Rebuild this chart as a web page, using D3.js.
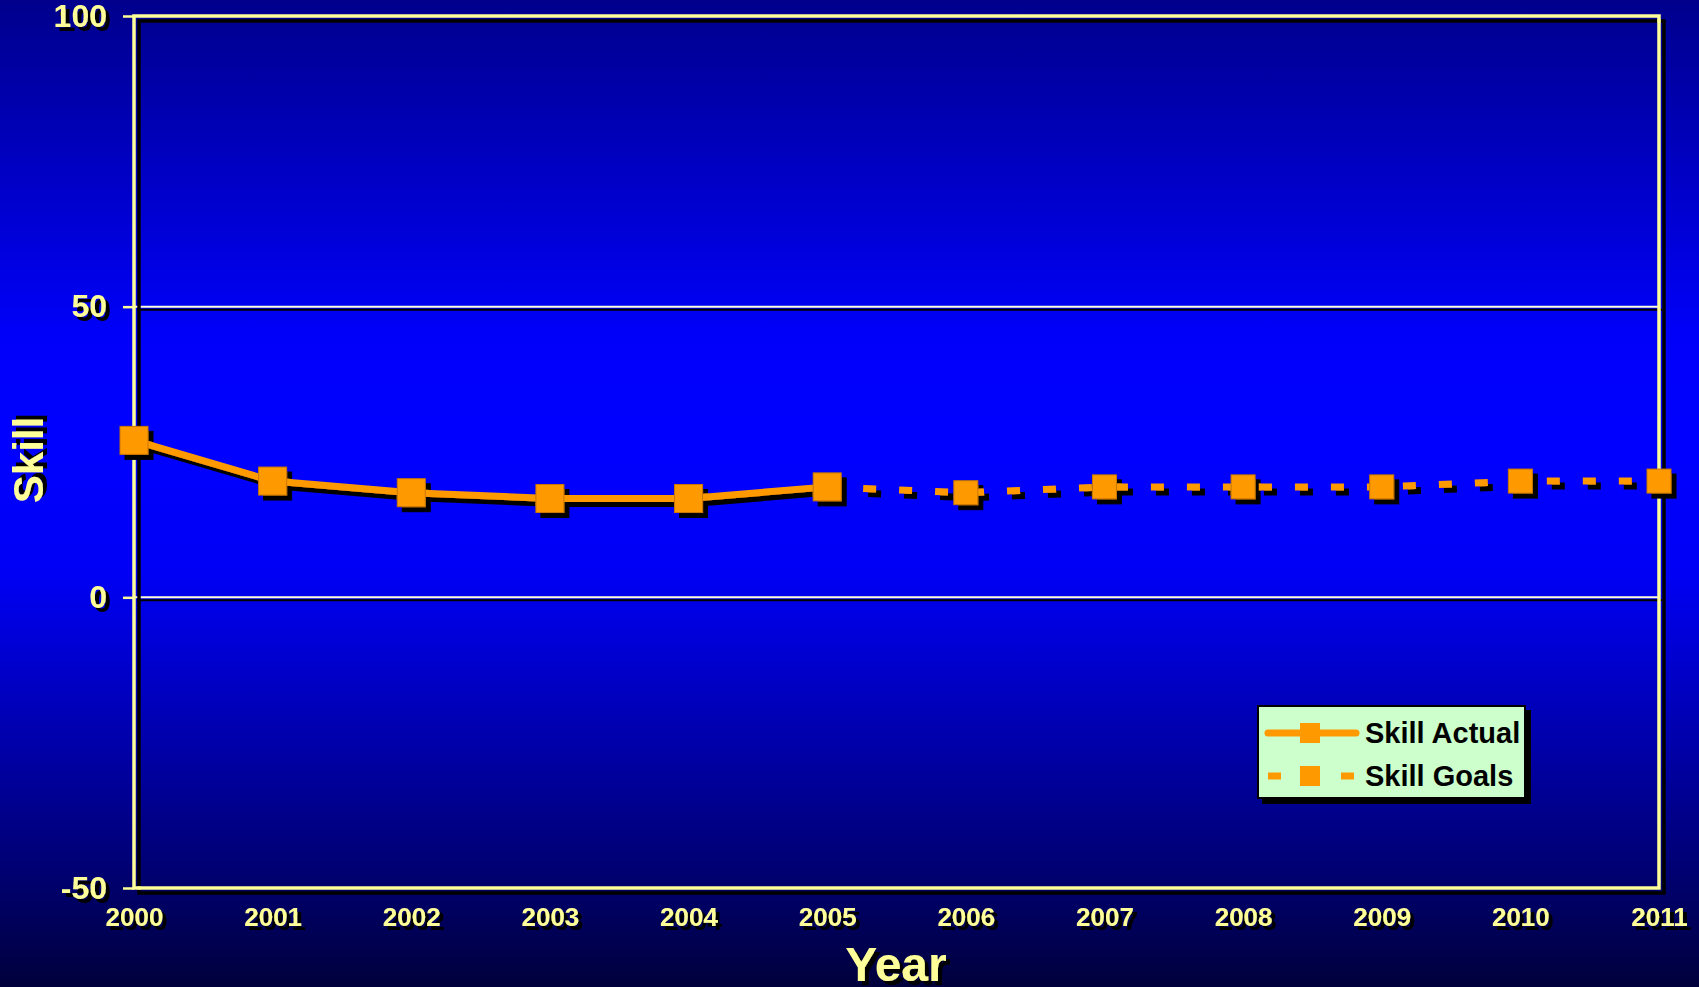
<!DOCTYPE html>
<html>
<head>
<meta charset="utf-8">
<script src="https://cdn.jsdelivr.net/npm/d3@7"></script>
<style>
  html, body { margin: 0; padding: 0; background: #000080; }
  svg { display: block; }
</style>
</head>
<body>
<svg id="chart" width="1699" height="987"></svg>
<script>
// ---- Data ----
const years = [2000, 2001, 2002, 2003, 2004, 2005, 2006, 2007, 2008, 2009, 2010, 2011];
const actualYears = [2000, 2001, 2002, 2003, 2004, 2005];
const actualValues = [27, 20, 18, 17, 17, 19];
const goalYears = [2005, 2006, 2007, 2008, 2009, 2010, 2011];
const goalValues = [19, 18, 19, 19, 19, 20, 20];
const yTicks = [-50, 0, 50, 100];
const gridValues = [0, 50];
const seriesNames = ["Skill Actual", "Skill Goals"];

// ---- Layout ----
const W = 1699, H = 987;
const margin = { left: 134, right: 40, top: 16, bottom: 99 };
const innerW = W - margin.left - margin.right;
const innerH = H - margin.top - margin.bottom;
const textColor = "#FFFF99";
const orange = "#FF9900";
const font = "'Liberation Sans', Arial, sans-serif";

const svg = d3.select("#chart");
const defs = svg.append("defs");

const grad = defs.append("linearGradient").attr("id", "bg")
  .attr("x1", 0).attr("y1", 0).attr("x2", 0).attr("y2", 1);
[[0, "#00008C"], [0.34, "#0000FA"], [0.45, "#0000FF"], [0.58, "#0000F5"], [0.9, "#00006A"], [1, "#00003C"]]
  .forEach(([o, c]) => grad.append("stop").attr("offset", o).attr("stop-color", c));

function shadowFilter(id, d) {
  const f = defs.append("filter").attr("id", id)
    .attr("x", "-20%").attr("y", "-20%").attr("width", "140%").attr("height", "140%")
    .attr("filterUnits", "objectBoundingBox");
  f.append("feDropShadow").attr("dx", d).attr("dy", d).attr("stdDeviation", 0)
    .attr("flood-color", "#000").attr("flood-opacity", 1);
}
shadowFilter("sh5", 5);
shadowFilter("sh4", 4);
shadowFilter("sh3", 3);

svg.append("rect").attr("width", W).attr("height", H).attr("fill", "url(#bg)");

const x = d3.scaleLinear().domain([years[0], years[years.length - 1]]).range([0, innerW]);
const y = d3.scaleLinear().domain([-50, 100]).range([innerH, 0]);

const g = svg.append("g").attr("transform", `translate(${margin.left},${margin.top})`);

// gridlines
g.append("g").attr("filter", "url(#sh3)")
  .selectAll("line").data(gridValues).join("line")
  .attr("x1", 0).attr("x2", innerW)
  .attr("y1", d => y(d)).attr("y2", d => y(d))
  .attr("stroke", "#FFFFDD").attr("stroke-width", 2);

// frame
g.append("rect").attr("x", 0).attr("y", 0).attr("width", innerW).attr("height", innerH)
  .attr("fill", "none").attr("stroke", textColor).attr("stroke-width", 3.5)
  .attr("filter", "url(#sh5)");

// y axis
const yAxis = d3.axisLeft(y).tickValues(yTicks).tickSize(11).tickPadding(16).tickFormat(d => String(d));
const yg = g.append("g").call(yAxis);
yg.select(".domain").remove();
yg.selectAll(".tick line").attr("stroke", textColor).attr("stroke-width", 2.5);
yg.selectAll(".tick text").attr("fill", textColor).attr("font-family", font)
  .attr("font-weight", "bold").attr("font-size", 32).attr("filter", "url(#sh4)");

// x axis
const xAxis = d3.axisBottom(x).tickValues(years).tickSize(0).tickPadding(20).tickFormat(d => String(d));
const xg = g.append("g").attr("transform", `translate(0,${innerH})`).call(xAxis);
xg.select(".domain").remove();
xg.selectAll(".tick text").attr("fill", textColor).attr("font-family", font)
  .attr("font-weight", "bold").attr("font-size", 26).attr("filter", "url(#sh4)");

// axis titles
svg.append("text").attr("transform", "translate(43,460) rotate(-90)")
  .attr("text-anchor", "middle").attr("fill", textColor).attr("font-family", font)
  .attr("font-weight", "bold").attr("font-size", 42).attr("filter", "url(#sh4)").text("Skill");
svg.append("text").attr("x", 896).attr("y", 981)
  .attr("text-anchor", "middle").attr("fill", textColor).attr("font-family", font)
  .attr("font-weight", "bold").attr("font-size", 48).attr("filter", "url(#sh4)").text("Year");

// series
const line = d3.line().x(d => x(d[0])).y(d => y(d[1]));
const actual = actualYears.map((yr, i) => [yr, actualValues[i]]);
const goals = goalYears.map((yr, i) => [yr, goalValues[i]]);

const seriesG = g.append("g").attr("filter", "url(#sh5)");
seriesG.append("path").datum(goals).attr("d", line)
  .attr("fill", "none").attr("stroke", orange).attr("stroke-width", 7)
  .attr("stroke-dasharray", "13,23");
seriesG.append("path").datum(actual).attr("d", line)
  .attr("fill", "none").attr("stroke", orange).attr("stroke-width", 7)
  .attr("stroke-linejoin", "round");

const gs = 24;
seriesG.selectAll("rect.goal").data(goals.slice(1)).join("rect").attr("class", "goal")
  .attr("x", d => x(d[0]) - gs / 2).attr("y", d => y(d[1]) - gs / 2)
  .attr("width", gs).attr("height", gs)
  .attr("fill", orange).attr("stroke", "#C87800").attr("stroke-width", 1);
const as = 28;
seriesG.selectAll("rect.act").data(actual).join("rect").attr("class", "act")
  .attr("x", d => x(d[0]) - as / 2).attr("y", d => y(d[1]) - as / 2)
  .attr("width", as).attr("height", as)
  .attr("fill", orange).attr("stroke", "#C87800").attr("stroke-width", 1);

// legend
const lg = svg.append("g").attr("transform", "translate(1258,706)");
lg.append("rect").attr("width", 267).attr("height", 92)
  .attr("fill", "#CCFFCC").attr("stroke", "#000").attr("stroke-width", 2)
  .attr("filter", "url(#sh5)");
const rows = [27, 70];
// row 1 - solid
lg.append("line").attr("x1", 10).attr("x2", 98).attr("y1", rows[0]).attr("y2", rows[0])
  .attr("stroke", orange).attr("stroke-width", 7).attr("stroke-linecap", "round");
lg.append("rect").attr("x", 52 - 10).attr("y", rows[0] - 10).attr("width", 20).attr("height", 20).attr("fill", orange);
// row 2 - dashed
lg.append("line").attr("x1", 10).attr("x2", 96).attr("y1", rows[1]).attr("y2", rows[1])
  .attr("stroke", orange).attr("stroke-width", 7).attr("stroke-dasharray", "13,60");
lg.append("rect").attr("x", 52 - 10).attr("y", rows[1] - 10).attr("width", 20).attr("height", 20).attr("fill", orange);
lg.selectAll("text").data(seriesNames).join("text")
  .attr("x", 107).attr("y", (d, i) => rows[i]).attr("dy", "0.36em")
  .attr("fill", "#000").attr("font-family", font).attr("font-weight", "bold").attr("font-size", 29)
  .text(d => d);
</script>
</body>
</html>
